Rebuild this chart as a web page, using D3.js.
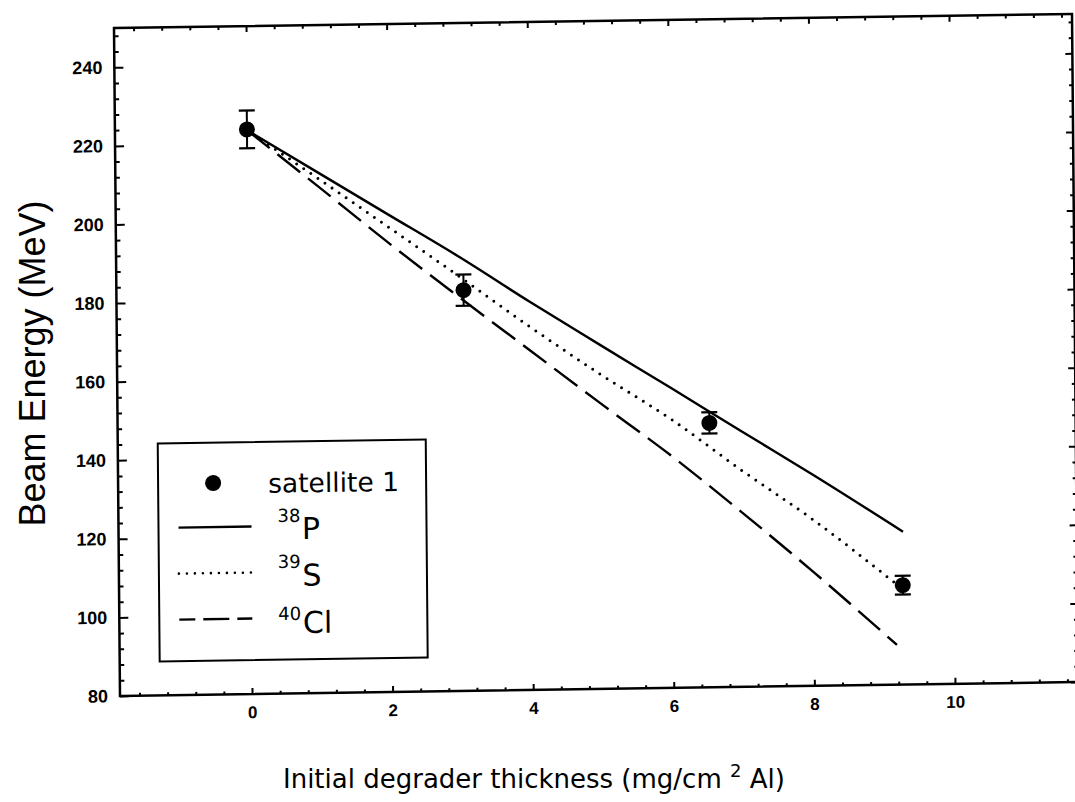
<!DOCTYPE html>
<html><head><meta charset="utf-8">
<script src="https://cdn.jsdelivr.net/npm/d3@7"></script>
<style>body{margin:0;background:#fff} svg{display:block}</style>
</head><body>
<svg id="chart" width="1075" height="802"></svg>
<script>
// ---- data ----
const xMajorTicks = [0, 2, 4, 6, 8, 10];
const yMajorTicks = [80, 100, 120, 140, 160, 180, 200, 220, 240];

const satX   = [0, 3.06, 6.54, 9.27];
const satY   = [223.7, 182.0, 147.3, 105.3];
const satErr = [4.8, 4.0, 2.7, 2.4];

const p38X = [0, 1, 2, 3, 4, 5, 6, 7, 8, 9.28];
const p38Y = [223.5, 212.5, 201.5, 190.5, 178.8, 167.5, 156.3, 145.0, 133.8, 118.9];

const s39X = [0, 1, 2, 3, 4, 5, 6, 7, 8, 9.15];
const s39Y = [223.5, 211.0, 198.3, 185.5, 172.4, 160.0, 148.3, 135.0, 122.3, 106.0];

const cl40X = [0, 1, 2, 3, 4, 5, 6, 7, 8, 9.18];
const cl40Y = [223.5, 209.0, 194.3, 180.2, 166.4, 152.6, 139.0, 124.3, 109.0, 90.1];

const xTitle = "Initial degrader thickness (mg/cm";
const yTitle = "Beam Energy (MeV)";

// ---- drawing ----
const svg = d3.select("#chart");
svg.append("rect").attr("width", 1075).attr("height", 802).attr("fill", "#fff");

// slight skew of the scanned figure
const g = svg.append("g").attr("transform", "matrix(1,-0.01461,0.00898,1,-0.251,1.666)");

const L = 114, R = 1072, T = 28, B = 696;
const x = d3.scaleLinear().domain([-1.878, 11.75]).range([L, R]);
const y = d3.scaleLinear().domain([80, 250]).range([B, T]);

const xMinor = d3.range(-1.6, 11.7, 0.4).filter(v => !xMajorTicks.some(m => Math.abs(m - v) < 1e-6));
const yMinor = d3.range(84, 250, 4).filter(v => v % 20 !== 0);

const tickFont = "'Liberation Sans', Arial, Helvetica, sans-serif";

function clean(sel, fs) {
  sel.select(".domain").remove();
  sel.selectAll(".tick line").attr("stroke", "#000").attr("stroke-width", 2);
  sel.selectAll(".tick text").attr("fill", "#000").attr("font-family", tickFont)
     .attr("font-weight", "bold").attr("font-size", fs);
}

// bottom
g.append("g").attr("transform", `translate(0,${B})`)
  .call(d3.axisBottom(x).tickValues(xMajorTicks).tickSizeInner(-6).tickSizeOuter(0).tickPadding(12).tickFormat(d3.format("d")))
  .call(s => clean(s, 17));
g.append("g").attr("transform", `translate(0,${B})`)
  .call(d3.axisBottom(x).tickValues(xMinor).tickSizeInner(-3).tickSizeOuter(0).tickFormat(""))
  .call(s => clean(s, 17));
// top
g.append("g").attr("transform", `translate(0,${T})`)
  .call(d3.axisTop(x).tickValues(xMajorTicks).tickSizeInner(-6).tickSizeOuter(0).tickFormat(""))
  .call(s => clean(s, 17));
g.append("g").attr("transform", `translate(0,${T})`)
  .call(d3.axisTop(x).tickValues(xMinor).tickSizeInner(-3.5).tickSizeOuter(0).tickFormat(""))
  .call(s => clean(s, 17));
// left
g.append("g").attr("transform", `translate(${L},0)`)
  .call(d3.axisLeft(y).tickValues(yMajorTicks).tickSizeInner(-9).tickSizeOuter(0).tickPadding(12).tickFormat(d3.format("d")))
  .call(s => clean(s, 18));
g.append("g").attr("transform", `translate(${L},0)`)
  .call(d3.axisLeft(y).tickValues(yMinor).tickSizeInner(-4.5).tickSizeOuter(0).tickFormat(""))
  .call(s => clean(s, 18));
// right
g.append("g").attr("transform", `translate(${R},0)`)
  .call(d3.axisRight(y).tickValues(yMajorTicks).tickSizeInner(-7).tickSizeOuter(0).tickFormat(""))
  .call(s => clean(s, 18));
g.append("g").attr("transform", `translate(${R},0)`)
  .call(d3.axisRight(y).tickValues(yMinor).tickSizeInner(-3.5).tickSizeOuter(0).tickFormat(""))
  .call(s => clean(s, 18));

// frame
g.append("rect").attr("x", L).attr("y", T).attr("width", R - L).attr("height", B - T)
  .attr("fill", "none").attr("stroke", "#000").attr("stroke-width", 2.5);

// curves
const line = d3.line().curve(d3.curveMonotoneX).x(d => x(d[0])).y(d => y(d[1]));
const curves = [
  { xs: p38X, ys: p38Y, dash: null, w: 2.4, cap: "butt" },
  { xs: s39X, ys: s39Y, dash: "0 8.6", w: 3, cap: "round" },
  { xs: cl40X, ys: cl40Y, dash: "29 10", w: 2.4, cap: "butt" }
];
curves.forEach(c => {
  g.append("path").datum(c.xs.map((v, i) => [v, c.ys[i]]))
    .attr("d", line).attr("fill", "none").attr("stroke", "#000")
    .attr("stroke-width", c.w).attr("stroke-linecap", c.cap)
    .attr("stroke-dasharray", c.dash);
});

// data points with error bars
const pts = satX.map((v, i) => ({ x: v, y: satY[i], e: satErr[i] }));
const pg = g.append("g").selectAll("g").data(pts).join("g");
pg.append("line").attr("x1", d => x(d.x)).attr("x2", d => x(d.x))
  .attr("y1", d => y(d.y - d.e)).attr("y2", d => y(d.y + d.e))
  .attr("stroke", "#000").attr("stroke-width", 2);
[1, -1].forEach(s => {
  pg.append("line").attr("x1", d => x(d.x) - 8).attr("x2", d => x(d.x) + 8)
    .attr("y1", d => y(d.y + s * d.e)).attr("y2", d => y(d.y + s * d.e))
    .attr("stroke", "#000").attr("stroke-width", 2.2);
});
pg.append("circle").attr("cx", d => x(d.x)).attr("cy", d => y(d.y)).attr("r", 8).attr("fill", "#000");

// legend
const lg = g.append("g");
const lf = "'DejaVu Sans', Verdana, sans-serif";
lg.append("rect").attr("x", 154).attr("y", 444).attr("width", 268).attr("height", 218)
  .attr("fill", "#fff").attr("stroke", "#000").attr("stroke-width", 2);
lg.append("circle").attr("cx", 209).attr("cy", 484.5).attr("r", 8).attr("fill", "#000");
lg.append("text").attr("x", 264).attr("y", 495).attr("font-family", lf).attr("font-size", 26.5)
  .attr("fill", "#000").text("satellite 1");

const legendRows = [
  { ly: 528.5, dash: null, w: 2.4, cap: "butt", sup: "38", el: "P", sy: 524.4, ey: 541.7 },
  { ly: 574.5, dash: "0 8", w: 2.6, cap: "round", sup: "39", el: "S", sy: 570.4, ey: 588.5 },
  { ly: 620.5, dash: "16 8 26 8 20", w: 2.4, cap: "butt", sup: "40", el: "Cl", sy: 622.4, ey: 635.7 }
];
legendRows.forEach(r => {
  lg.append("line").attr("x1", 174).attr("x2", 247).attr("y1", r.ly).attr("y2", r.ly)
    .attr("stroke", "#000").attr("stroke-width", r.w).attr("stroke-linecap", r.cap)
    .attr("stroke-dasharray", r.dash);
  lg.append("text").attr("x", 273).attr("y", r.sy).attr("font-family", lf).attr("font-size", 18)
    .attr("fill", "#000").text(r.sup);
  lg.append("text").attr("x", 297.5).attr("y", r.ey).attr("font-family", lf).attr("font-size", 30)
    .attr("fill", "#000").text(r.el);
});

// axis titles
const xt = svg.append("text").attr("x", 283).attr("y", 788)
  .attr("font-family", lf).attr("font-size", 26).attr("fill", "#000");
xt.append("tspan").text(xTitle + " ");
xt.append("tspan").attr("font-size", 18).attr("dy", -11).text("2");
xt.append("tspan").attr("dy", 11).text(" Al)");

svg.append("text").attr("transform", "translate(45,363.5) rotate(-90)")
  .attr("text-anchor", "middle").attr("font-family", tickFont).attr("font-size", 36)
  .attr("fill", "#000").text(yTitle);
</script>
</body></html>
